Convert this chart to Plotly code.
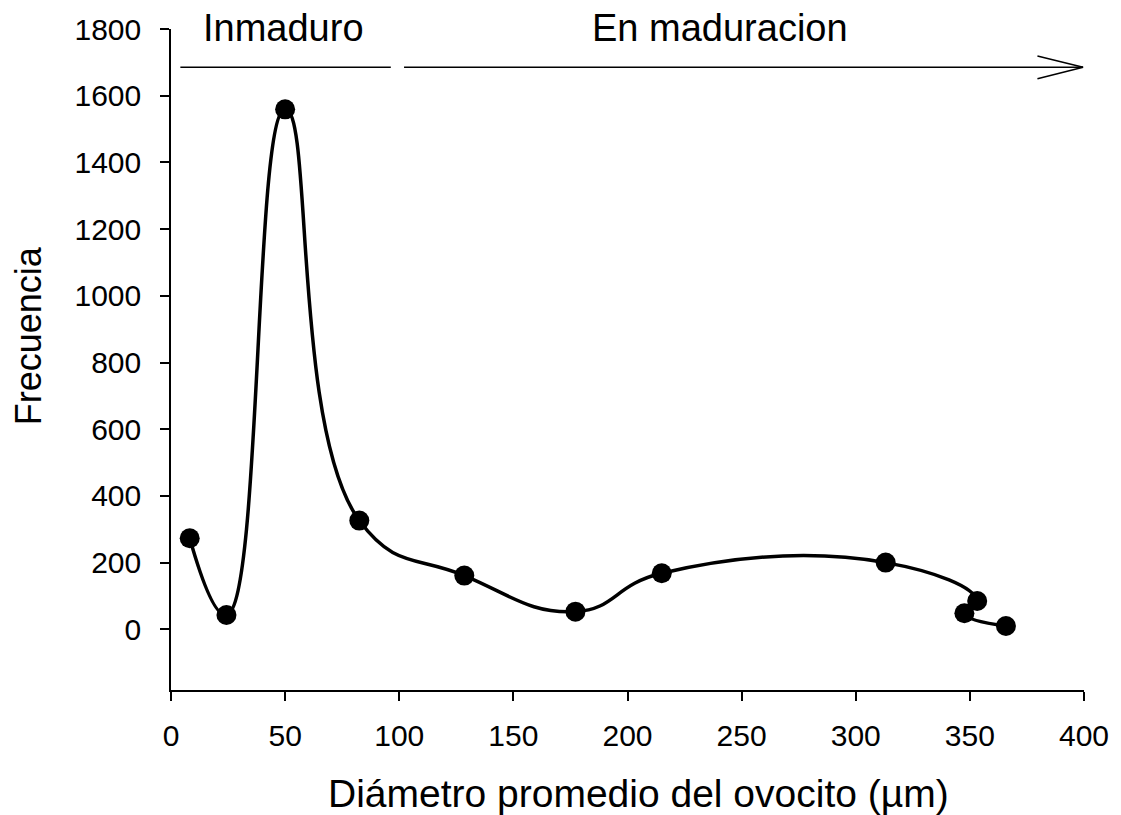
import plotly.graph_objects as go

# Oocyte diameter frequency data (sampling order kept as recorded)
diametro = [8.2, 24.3, 50.0, 82.5, 128.5, 177.2, 215.0, 313.1, 353.2, 347.6, 365.8]
frecuencia = [273, 43, 1559, 326, 161, 53, 168, 200, 85, 48, 10]

x_ticks = [0, 50, 100, 150, 200, 250, 300, 350, 400]
y_ticks = [0, 200, 400, 600, 800, 1000, 1200, 1400, 1600, 1800]

# Stage brackets drawn above the curve
etapa_y = 1685
inmaduro_x = (4.1, 96.3)
maduracion_x = (102.1, 399.6)

FONT = "Liberation Sans, Arial, sans-serif"

fig = go.Figure()
fig.add_trace(go.Scatter(
    x=diametro, y=frecuencia,
    mode="lines+markers",
    line=dict(color="black", width=3.5, shape="spline", smoothing=1.3),
    marker=dict(color="black", size=20),
    cliponaxis=False,
    showlegend=False,
))

shapes = [
    dict(type="line", xref="x", yref="y", x0=inmaduro_x[0], x1=inmaduro_x[1],
         y0=etapa_y, y1=etapa_y, line=dict(color="black", width=1.5)),
    dict(type="line", xref="x", yref="y", x0=maduracion_x[0], x1=maduracion_x[1],
         y0=etapa_y, y1=etapa_y, line=dict(color="black", width=1.5)),
    # open arrow head
    dict(type="line", xref="x", yref="y", x0=maduracion_x[1] - 20, x1=maduracion_x[1],
         y0=etapa_y + 34, y1=etapa_y, line=dict(color="black", width=1.5)),
    dict(type="line", xref="x", yref="y", x0=maduracion_x[1] - 20, x1=maduracion_x[1],
         y0=etapa_y - 34, y1=etapa_y, line=dict(color="black", width=1.5)),
]

annotations = [
    dict(text="Inmaduro", x=49.3, y=0.967, xref="x", yref="paper", yanchor="bottom",
         showarrow=False, font=dict(family=FONT, size=38, color="black")),
    dict(text="En maduracion", x=240.5, y=0.967, xref="x", yref="paper", yanchor="bottom",
         showarrow=False, font=dict(family=FONT, size=38, color="black")),
    dict(text="Diámetro promedio del ovocito (µm)", x=0.512, y=-0.156, xref="paper",
         yref="paper", yanchor="middle", showarrow=False,
         font=dict(family=FONT, size=39, color="black")),
    dict(text="Frecuencia", x=-0.156, y=0.536, xref="paper", yref="paper",
         textangle=-90, xanchor="center", yanchor="middle", showarrow=False,
         font=dict(family=FONT, size=36, color="black")),
]

axis_common = dict(
    showline=True, linecolor="black", linewidth=1.5,
    ticks="outside", ticklen=9, tickwidth=1.5, tickcolor="black",
    showgrid=False, zeroline=False,
    tickfont=dict(family=FONT, size=30, color="black"),
)

fig.update_layout(
    width=1121, height=815,
    margin=dict(l=171, r=33, t=29, b=125),
    paper_bgcolor="white", plot_bgcolor="white",
    xaxis=dict(range=[0, 400], tickvals=x_ticks, ticklabelstandoff=9, **axis_common),
    yaxis=dict(range=[-182, 1800], tickvals=y_ticks, ticklabelstandoff=13, **axis_common),
    shapes=shapes,
    annotations=annotations,
)

fig.write_html("out.html")
